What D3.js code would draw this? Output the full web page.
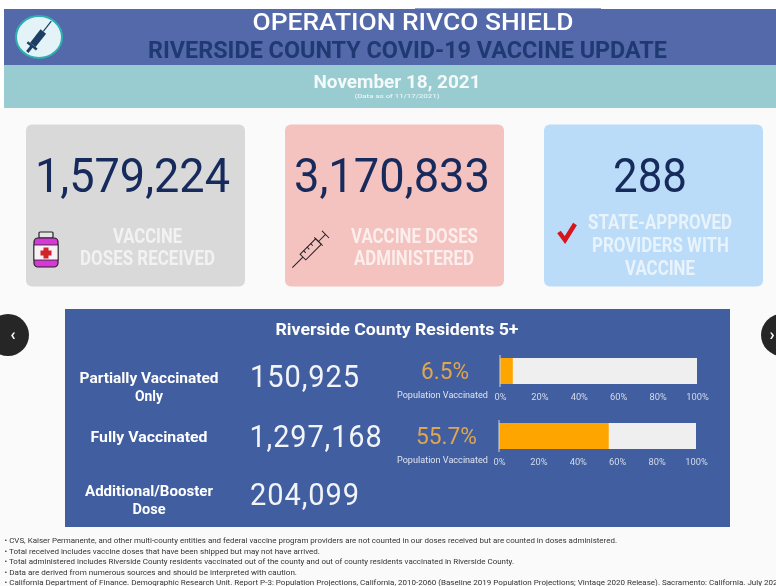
<!DOCTYPE html>
<html><head><meta charset="utf-8">
<script src="https://cdn.jsdelivr.net/npm/d3@7"></script>
<style>html,body{margin:0;padding:0;background:#fff;overflow:hidden}svg{display:block;filter:blur(.45px)}text{font-family:Roboto,sans-serif}</style>
</head><body><svg id="c" width="776" height="586"></svg>
<script>
const titleLines = ["OPERATION RIVCO SHIELD", "RIVERSIDE COUNTY COVID-19 VACCINE UPDATE"];
const dateLines = ["November 18, 2021", "(Data as of 11/17/2021)"];
const cardValues = ["1,579,224", "3,170,833", "288"];
const cardLabels = [["VACCINE", "DOSES RECEIVED"], ["VACCINE DOSES", "ADMINISTERED"], ["STATE-APPROVED", "PROVIDERS WITH", "VACCINE"]];
const cardColors = ["#d9d9d9", "#f4c2bf", "#bbdcf8"];
const panelTitle = "Riverside County Residents 5+";
const rowLabels = [["Partially Vaccinated", "Only"], ["Fully Vaccinated"], ["Additional/Booster", "Dose"]];
const rowValues = ["150,925", "1,297,168", "204,099"];
const percents = [6.5, 55.7];
const percentSub = "Population Vaccinated";
const axisTicks = [0, 20, 40, 60, 80, 100];
const notes = [
 "CVS, Kaiser Permanente, and other multi-county entities and federal vaccine program providers are not counted in our doses received but are counted in doses administered.",
 "Total received includes vaccine doses that have been shipped but may not have arrived.",
 "Total administered includes Riverside County residents vaccinated out of the county and out of county residents vaccinated in Riverside County.",
 "Data are derived from numerous sources and should be interpreted with caution.",
 "California Department of Finance. Demographic Research Unit. Report P-3: Population Projections, California, 2010-2060 (Baseline 2019 Population Projections; Vintage 2020 Release). Sacramento: California. July 2021"
];
const noteWidths = [617, 320, 514, 297, 782];

const svg = d3.select("#c");
const rect = (x,y,w,h,f,r=0,g=svg)=>g.append("rect").attr("x",x).attr("y",y).attr("width",w).attr("height",h).attr("fill",f).attr("rx",r);
const text = (x,y,s,size,weight,fill,len,anchor="middle")=>{
  const t=svg.append("text").attr("x",x).attr("y",y).attr("font-size",size).attr("font-weight",weight).attr("fill",fill).attr("text-anchor",anchor).text(s);
  if(len) t.attr("textLength",len).attr("lengthAdjust","spacingAndGlyphs");
  return t;
};
rect(0,0,776,586,"#fafafa");
rect(0,0,776,9,"#ffffff");
rect(0,0,4,108,"#ffffff");
rect(415,8,186,2,"#8f9cc8");
rect(4,9,772,56,"#5369a9");
rect(4,65,772,43,"#98ccd0");

// header icon
svg.append("ellipse").attr("cx",39).attr("cy",37).attr("rx",23).attr("ry",21).attr("fill","#e4f3f8").attr("stroke","#2fb0b0").attr("stroke-width",2);
const sy=svg.append("g").attr("transform","translate(39,37) rotate(38)");
rect(-3.500,-7,7,17,"#1c3f66",0,sy);
rect(-6,10,12,2.500,"#1c3f66",0,sy);
rect(-1.500,12,3,7,"#1c3f66",0,sy);
rect(-.6,-20,1.200,13,"#1c3f66",0,sy);

text(413,30,titleLines[0],23.500,500,"#ffffff",321);
text(407.500,57.500,titleLines[1],23.500,700,"#1f3a72",519);
text(397,88,dateLines[0],18,700,"#f4f9fa",167);
text(397,98,dateLines[1],6,500,"#e8f4f5",85);

// cards
const cardX = d3.scalePoint().domain(d3.range(3)).range([26,544]);
const valueW=[195,196,74];
const labelLens=[[69,135],[127,120],[144,137,70]];
const labelCx=[[147.500,147.500],[414.500,414],[660,660.500,660]];
const labelY=[[243,265],[243,265],[229,252,275]];
const labelFill=["#f2f2f2","#fbeeec","#e8f3fc"];
cardValues.forEach((v,i)=>{
  const x=cardX(i);
  rect(x,124.500,219,162,cardColors[i],6);
  text([132.500,392,650][i],192,v,49,400,"#172a5c",valueW[i]);
  cardLabels[i].forEach((l,j)=>text(labelCx[i][j],labelY[i][j],l,20,700,labelFill[i],labelLens[i][j]));
});

// bottle icon
const b=svg.append("g");
rect(39,232,14,6,"#e6e6e6",1,b).attr("stroke","#222").attr("stroke-width",1.200);
rect(34,238,24,29,"#d63ad6",4,b).attr("stroke","#222").attr("stroke-width",1.200);
rect(34,245,24,15,"#f8f2f8",0,b).attr("stroke","#222").attr("stroke-width",.8);
b.append("path").attr("d","M43.500,247.500h5v3h3v5h-3v3h-5v-3h-3v-5h3z").attr("fill","#d0232a");
// line syringe
const s2=svg.append("g").attr("transform","translate(310,250) rotate(-45)").attr("stroke","#222").attr("fill","none").attr("stroke-width",1);
s2.append("rect").attr("x",-10).attr("y",-4).attr("width",22).attr("height",8);
s2.append("path").attr("d","M-10,0H-25M12,-6V6M12,0H22M22,-5V5M-5,-4v3M0,-4v3M5,-4v3");
// check
svg.append("path").attr("d","M559,232L565,240L575,224").attr("fill","none").attr("stroke","#d8141c").attr("stroke-width",4.500);

// nav circles
svg.append("circle").attr("cx",8).attr("cy",335).attr("r",21).attr("fill","#262626");
svg.append("circle").attr("cx",782).attr("cy",335).attr("r",21).attr("fill","#262626");
text(13,340,"‹",17,700,"#ffffff");
text(772,340,"›",17,700,"#ffffff");

// panel
rect(65,309,665,218,"#405ea0");
text(397,335,panelTitle,16,700,"#ffffff",243);
const rowY=[[383,401],[442],[496,514]];
const rowLens=[[139,28],[117],[128,33]];
rowLabels.forEach((ls,i)=>ls.forEach((l,j)=>text(149,rowY[i][j],l,14,700,"#ffffff",rowLens[i][j])));
const valY=[387,447,505], valX=[305,316,305], valW=[110,133,110];
rowValues.forEach((v,i)=>text(valX[i],valY[i],v,32,400,"#f2f4f8",valW[i]).attr("letter-spacing",1));

const barX=[500,499], barY=[358,423], pctY=[379,444], pctW=[48,61], pctX=[445,446.500];
const subY=[398,463];
percents.forEach((p,i)=>{
  const x=d3.scaleLinear().domain([0,100]).range([barX[i],barX[i]+197]);
  rect(x(0),barY[i],x(100)-x(0),26,"#efefef");
  rect(x(0),barY[i],x(p)-x(0),26,"#ffa500");
  svg.append("line").attr("x1",x(0)).attr("x2",x(0)).attr("y1",barY[i]-3).attr("y2",barY[i]+29).attr("stroke","#cfd6e6");
  text(pctX[i],pctY[i],p.toFixed(1)+"%",23,400,"#e0a550",pctW[i]);
  text(442.500,subY[i],percentSub,9.500,400,"#dfe4ef",91);
  const ax=svg.append("g").attr("transform",`translate(0,${barY[i]+26})`)
    .call(d3.axisBottom(x).tickValues(axisTicks).tickSize(0).tickPadding(9).tickFormat(d=>d+"%"));
  ax.select(".domain").remove();
  ax.selectAll("text").attr("font-size",9.300).attr("fill","#d5dbea").style("font-family","Roboto,sans-serif");
});

// footnotes
notes.forEach((n,i)=>text(4.500,543+i*10.500,"• "+n,7.500,400,"#333333",noteWidths[i]-4.500,"start"));
</script></body></html>
